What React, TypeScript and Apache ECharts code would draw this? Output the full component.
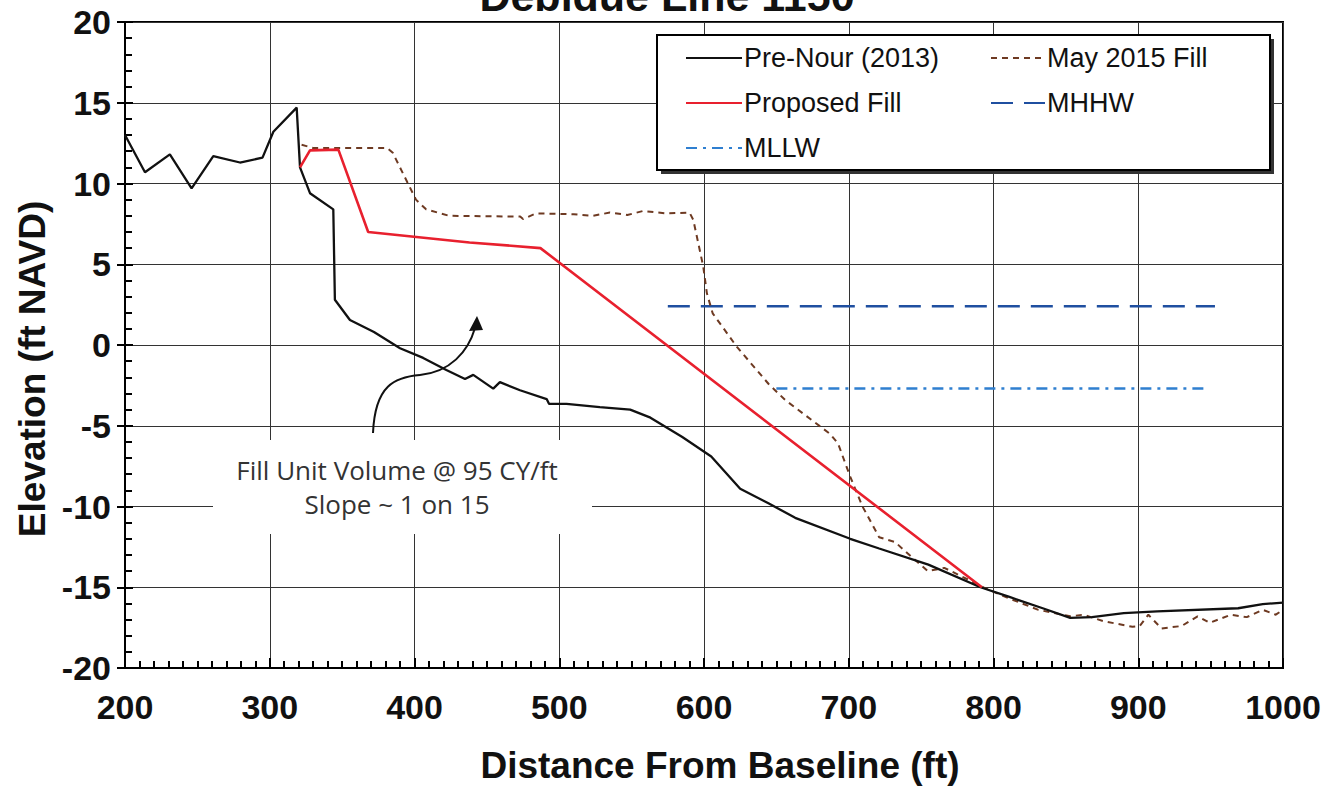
import React, { useEffect, useRef } from "react";
import * as echarts from "echarts";

const titleText = "Debidue Line 1150";
const xName = "Distance From Baseline (ft)";
const yName = "Elevation (ft NAVD)";
const noteLines = ["Fill Unit Volume @ 95 CY/ft", "Slope ~ 1 on 15"];

const xMin = 200, xMax = 1000, xStep = 100;
const yMin = -20, yMax = 20, yStep = 5;

const preNour: [number, number][] = [
  [200, 13.0], [213.8, 10.7], [231, 11.8], [246, 9.7], [261, 11.7], [279.4, 11.3], [295, 11.6],
  [302.5, 13.2], [318.6, 14.7], [320.9, 11.0], [327.8, 9.4], [343.9, 8.4], [345, 2.8], [355.4, 1.55],
  [372, 0.8], [390, -0.2], [406, -0.8], [422, -1.55], [434.9, -2.1], [440.6, -1.85], [454.4, -2.7],
  [459, -2.3], [472.9, -2.8], [491.3, -3.35], [493, -3.65], [505, -3.65], [528, -3.85], [549, -4.0],
  [563, -4.5], [585, -5.7], [605, -6.9], [625, -8.9], [644.5, -9.8], [663, -10.7], [701, -12.0],
  [721, -12.6], [755, -13.6], [791, -15.0], [811, -15.6], [834, -16.3], [853, -16.9], [868, -16.85],
  [890, -16.6], [913, -16.5], [969, -16.3], [986, -16.05], [1000, -15.95],
];

const may2015: [number, number][] = [
  [322, 12.4], [330, 12.2], [381, 12.2], [385, 11.9], [401, 9.0], [408, 8.4], [424, 8.0], [473, 7.95],
  [475, 7.8], [484, 8.15], [510, 8.1], [523, 8.0], [535, 8.2], [547, 8.05], [558, 8.3], [574, 8.15],
  [590, 8.2], [592.6, 7.75], [599.5, 4.85], [602, 3.2], [606, 1.96], [622.6, -0.1], [644.5, -2.4],
  [656, -3.4], [676, -4.75], [687, -5.5], [692.6, -6.1], [701, -8.15], [709.5, -10.0], [721, -11.9],
  [732, -12.2], [740.6, -12.9], [754.6, -14.0], [766, -13.8], [783, -14.55], [794, -15.05], [811, -15.7],
  [831, -16.4], [853, -16.8], [862, -16.7], [876, -17.1], [896, -17.45], [901, -17.4], [907, -16.7],
  [916, -17.55], [930, -17.4], [941, -16.8], [949.5, -17.2], [964, -16.7], [975, -16.85], [986, -16.4],
  [995, -16.7], [1000, -16.4],
];

const proposed: [number, number][] = [
  [320.9, 11.0], [327.8, 12.05], [347.4, 12.1], [368, 7.0], [438, 6.35], [487, 6.0], [792, -15.0],
];

const mhhw: [number, number][] = [[575, 2.4], [953, 2.4]];
const mllw: [number, number][] = [[650, -2.7], [947, -2.7]];

const legendCol1 = ["Pre-Nour (2013)", "Proposed Fill", "MLLW"];
const legendCol2 = ["May 2015 Fill", "MHHW"];

const FONT = "Arial, 'Liberation Sans', sans-serif";
const NOTE_FONT = "'Open Sans', Lato, sans-serif";

export default function App() {
  const ref = useRef<HTMLDivElement>(null);
  useEffect(() => {
    if (!ref.current) return;
    const chart = echarts.init(ref.current, undefined, { renderer: "svg" });
    const legendBase = {
      orient: "vertical" as const,
      top: 38,
      itemWidth: 56,
      itemHeight: 14,
      itemGap: 15,
      itemStyle: { opacity: 0 },
      textStyle: { fontFamily: FONT, fontSize: 27, color: "#111", lineHeight: 30, padding: [0, 0, 0, -3] },
      z: 6,
    };
    chart.setOption({
      animation: false,
      backgroundColor: "#fff",
      grid: {
        left: 125, right: 57, top: 22, bottom: 122,
        show: true, borderColor: "#000", borderWidth: 2, backgroundColor: "transparent",
      },
      legend: [
        { ...legendBase, left: 680, data: legendCol1 },
        { ...legendBase, left: 985, itemWidth: 54, data: legendCol2 },
      ],
      xAxis: {
        type: "value", min: xMin, max: xMax, interval: xStep,
        axisLine: { show: true, onZero: false, lineStyle: { color: "#000", width: 2 } },
        axisTick: { show: true, inside: true, length: 10, lineStyle: { color: "#000", width: 2 } },
        minorTick: { show: true, splitNumber: 10, length: 7, lineStyle: { color: "#000", width: 2 } },
        splitLine: { show: true, lineStyle: { color: "#333", width: 1 } },
        axisLabel: {
          fontFamily: FONT, fontSize: 34, fontWeight: "bold", color: "#111", margin: 22,
          formatter: (v: number) => String(v),
        },
      },
      yAxis: [
        {
          type: "value", min: yMin, max: yMax, interval: yStep,
          axisLine: { show: true, onZero: false, lineStyle: { color: "#000", width: 2 } },
          axisTick: { show: true, inside: true, length: 8, lineStyle: { color: "#000", width: 2 } },
          minorTick: { show: true, splitNumber: 5, length: 7, lineStyle: { color: "#000", width: 2 } },
          splitLine: { show: true, lineStyle: { color: "#333", width: 1 } },
          axisLabel: {
            fontFamily: FONT, fontSize: 34, fontWeight: "bold", color: "#111", margin: 14,
            formatter: (v: number) => String(v),
          },
        },
        {
          type: "value", min: yMin, max: yMax, interval: yStep, position: "left",
          axisLine: { show: false, onZero: false },
          axisTick: { show: true, inside: false, length: 8, lineStyle: { color: "#000", width: 2 } },
          splitLine: { show: false },
          axisLabel: { show: false },
        },
      ],
      series: [
        {
          name: "MHHW", type: "line", data: mhhw, symbol: "none", z: 2,
          lineStyle: { color: "#1f4fa0", width: 2.5, type: [22, 11] },
          itemStyle: { color: "#1f4fa0" },
        },
        {
          name: "MLLW", type: "line", data: mllw, symbol: "none", z: 2,
          lineStyle: { color: "#2f7fd0", width: 2.5, type: [11, 6, 3, 6] },
          itemStyle: { color: "#2f7fd0" },
        },
        {
          name: "May 2015 Fill", type: "line", data: may2015, symbol: "none", z: 2,
          lineStyle: { color: "#6e3a22", width: 2, type: [6, 5] },
          itemStyle: { color: "#6e3a22" },
        },
        {
          name: "Pre-Nour (2013)", type: "line", data: preNour, symbol: "none", z: 2,
          lineStyle: { color: "#111", width: 2.3 },
          itemStyle: { color: "#111" },
        },
        {
          name: "Proposed Fill", type: "line", data: proposed, symbol: "none", z: 2,
          lineStyle: { color: "#e8202e", width: 2.6 },
          itemStyle: { color: "#e8202e" },
        },
      ],
      graphic: [
        {
          type: "text", x: 667, y: 17, z: 10,
          style: { text: titleText, font: `bold 43px ${FONT}`, fill: "#111", align: "center", verticalAlign: "bottom" },
        },
        {
          type: "text", x: 720, y: 765, z: 10,
          style: { text: xName, font: `bold 37px ${FONT}`, fill: "#111", align: "center", verticalAlign: "middle" },
        },
        {
          type: "text", x: 32, y: 369, rotation: Math.PI / 2, z: 10,
          style: { text: yName, font: `bold 37px ${FONT}`, fill: "#111", align: "center", verticalAlign: "middle" },
        },
        { type: "rect", z: 3, shape: { x: 661, y: 39, width: 613, height: 135 }, style: { fill: "#333" } },
        {
          type: "rect", z: 3,
          shape: { x: 657, y: 35, width: 613, height: 135 },
          style: { fill: "#fff", stroke: "#000", lineWidth: 2 },
        },
        { type: "rect", z: 3, shape: { x: 213, y: 440, width: 379, height: 94 }, style: { fill: "#fff" } },
        {
          type: "text", x: 397, y: 470, z: 6,
          style: { text: noteLines[0], font: `26px ${NOTE_FONT}`, fill: "#333", align: "center", verticalAlign: "middle" },
        },
        {
          type: "text", x: 397, y: 504, z: 6,
          style: { text: noteLines[1], font: `26px ${NOTE_FONT}`, fill: "#333", align: "center", verticalAlign: "middle" },
        },
        {
          type: "bezierCurve", z: 6,
          shape: { x1: 373, y1: 433, cpx1: 375, cpy1: 385, cpx2: 395, cpy2: 377, x2: 420, y2: 375 },
          style: { stroke: "#111", lineWidth: 2, fill: "none" },
        },
        {
          type: "bezierCurve", z: 6,
          shape: { x1: 420, y1: 375, cpx1: 450, cpy1: 372, cpx2: 468, cpy2: 352, x2: 475, y2: 328 },
          style: { stroke: "#111", lineWidth: 2, fill: "none" },
        },
        {
          type: "polygon", z: 6,
          shape: { points: [[477, 316], [469, 331], [483, 330]] },
          style: { fill: "#111" },
        },
      ],
    });
    return () => chart.dispose();
  }, []);
  return <div ref={ref} style={{ position: "fixed", left: 0, top: 0, width: 1340, height: 790 }} />;
}
